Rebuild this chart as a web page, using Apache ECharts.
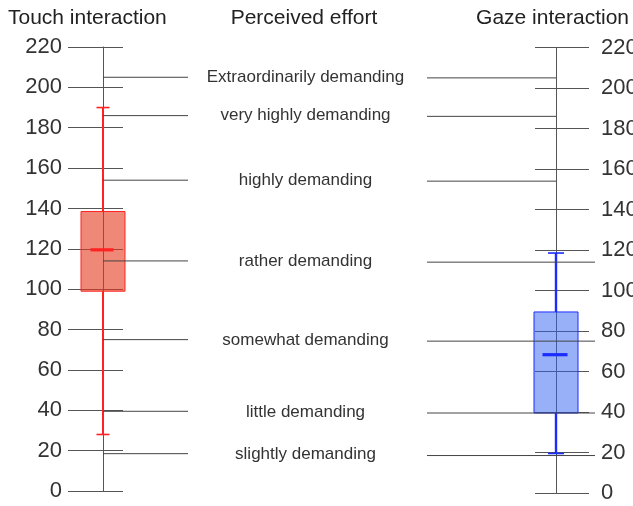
<!DOCTYPE html>
<html>
<head>
<meta charset="utf-8">
<script src="https://cdn.jsdelivr.net/npm/echarts@6/dist/echarts.min.js"></script>
<style>
html,body{margin:0;padding:0;background:#fff;}
#chart{width:633px;height:506px;}
</style>
</head>
<body>
<div id="chart"></div>
<script>
// ---- data ----
const axisMin = 0;
const axisMax = 220;
const axisInterval = 20;
const groupNames = ['Touch interaction', 'Gaze interaction'];
const middleTitle = 'Perceived effort';
// [min, Q1, median, Q3, max]
const touchBox = [28, 99, 119.5, 138.5, 190];
const gazeBox = [19.5, 39.5, 68.3, 89.4, 118.5];
const levelNames = [
  'Extraordinarily demanding',
  'very highly demanding',
  'highly demanding',
  'rather demanding',
  'somewhat demanding',
  'little demanding',
  'slightly demanding'
];
const levelValues = [205, 186, 154, 114, 75, 39.5, 18.5];

// ---- styles ----
const FONT = 'Liberation Sans, Arial, Helvetica, sans-serif';
const TEXT = '#333';
const LINE = '#555';
const LEFT_SCALE = {top: 47, height: 444};
const RIGHT_SCALE = {top: 47.5, height: 445.5};
const MID_SCALE = {top: 47, height: 445};

const chart = echarts.init(document.getElementById('chart'));

function valueY(gridIndex, show, extra) {
  return Object.assign({
    type: 'value', gridIndex: gridIndex, min: axisMin, max: axisMax, interval: axisInterval,
    show: show
  }, extra || {});
}

function gridAt(left, width, scale) {
  return Object.assign({left: left, width: width, outerBoundsMode: 'none', containLabel: false}, scale);
}

function hiddenX(gridIndex) {
  return {type: 'value', gridIndex: gridIndex, show: false, min: 0, max: 1};
}

function boxRender(color, stroke, boxW, capW, medW, whiskW) {
  return function (params, api) {
    const mn = api.value(1), q1 = api.value(2), md = api.value(3), q3 = api.value(4), mx = api.value(5);
    const pMin = api.coord([api.value(0), mn]);
    const x = pMin[0];
    const yMin = pMin[1];
    const yQ1 = api.coord([api.value(0), q1])[1];
    const yMd = api.coord([api.value(0), md])[1];
    const yQ3 = api.coord([api.value(0), q3])[1];
    const yMax = api.coord([api.value(0), mx])[1];
    return {
      type: 'group',
      children: [
        {type: 'line', shape: {x1: x, y1: yMax, x2: x, y2: yQ3}, style: {stroke: stroke, lineWidth: whiskW}},
        {type: 'line', shape: {x1: x, y1: yQ1, x2: x, y2: yMin}, style: {stroke: stroke, lineWidth: whiskW}},
        {type: 'line', shape: {x1: x - capW / 2, y1: yMax, x2: x + capW / 2, y2: yMax}, style: {stroke: stroke, lineWidth: 1.6}},
        {type: 'line', shape: {x1: x - capW / 2, y1: yMin, x2: x + capW / 2, y2: yMin}, style: {stroke: stroke, lineWidth: 1.6}},
        {type: 'rect', shape: {x: x - boxW / 2, y: yQ3, width: boxW, height: yQ1 - yQ3},
          style: {fill: color, stroke: stroke, lineWidth: 1}},
        {type: 'line', shape: {x1: x - medW / 2 - 1, y1: yMd, x2: x + medW / 2 - 1, y2: yMd}, style: {stroke: stroke, lineWidth: 3.2}}
      ]
    };
  };
}

function levelLinesRender(extendTo, extendFromIndex) {
  return function (params, api) {
    const cs = params.coordSys;
    const y = api.coord([0, api.value(1)])[1];
    let x2 = cs.x + cs.width;
    if (extendTo && params.dataIndex >= extendFromIndex) x2 = extendTo;
    return {type: 'line', shape: {x1: cs.x, y1: y, x2: x2, y2: y}, style: {stroke: '#444', lineWidth: 1}};
  };
}

const levelData = levelValues.map((v, i) => [i, v]);
const titleStyle = {fontFamily: FONT, fontSize: 21, fontWeight: 'normal', color: '#222'};

const splitAxis = {
  axisLine: {show: false},
  axisTick: {show: false},
  axisLabel: {show: false},
  splitLine: {show: true, lineStyle: {color: LINE, width: 1}}
};

const option = {
  animation: false,
  backgroundColor: '#fff',
  title: [
    {text: groupNames[0], left: 8, top: 8, padding: 0, textStyle: titleStyle},
    {text: middleTitle, left: 304, top: 8, padding: 0, textAlign: 'center', textStyle: titleStyle},
    {text: groupNames[1], right: 4, top: 8, padding: 0, textStyle: titleStyle}
  ],
  grid: [
    gridAt(68, 55, LEFT_SCALE),    // 0 left tick lines
    gridAt(535, 54, RIGHT_SCALE),  // 1 right tick lines
    gridAt(63, 80, LEFT_SCALE),    // 2 left box
    gridAt(516, 80, RIGHT_SCALE),  // 3 right box
    gridAt(103, 85, LEFT_SCALE),   // 4 left level lines
    gridAt(427, 129, RIGHT_SCALE), // 5 right level lines
    gridAt(188, 235, MID_SCALE),   // 6 middle labels
    gridAt(103, 40, LEFT_SCALE),   // 7 left axis line + labels
    gridAt(500, 56, RIGHT_SCALE)   // 8 right axis line + labels
  ],
  xAxis: [
    hiddenX(0),
    hiddenX(1),
    {type: 'category', gridIndex: 2, show: false, data: [groupNames[0]]},
    {type: 'category', gridIndex: 3, show: false, data: [groupNames[1]]},
    hiddenX(4),
    hiddenX(5),
    hiddenX(6),
    hiddenX(7),
    hiddenX(8)
  ],
  yAxis: [
    valueY(0, true, splitAxis),
    valueY(1, true, splitAxis),
    valueY(2, false),
    valueY(3, false),
    valueY(4, false),
    valueY(5, false),
    valueY(6, false),
    valueY(7, true, {
      position: 'left',
      axisLine: {show: true, onZero: false, lineStyle: {color: LINE, width: 1}},
      axisTick: {show: false},
      splitLine: {show: false},
      axisLabel: {margin: 41, fontSize: 22, fontFamily: FONT, color: TEXT}
    }),
    valueY(8, true, {
      position: 'right',
      axisLine: {show: true, onZero: false, lineStyle: {color: LINE, width: 1}},
      axisTick: {show: false},
      splitLine: {show: false},
      axisLabel: {margin: 45, fontSize: 22, fontFamily: FONT, color: TEXT}
    })
  ],
  series: [
    {
      type: 'custom', name: groupNames[0], xAxisIndex: 2, yAxisIndex: 2,
      renderItem: boxRender('rgba(230,57,30,0.6)', '#ff2222', 44, 13, 23, 2),
      data: [[0].concat(touchBox)], encode: {x: 0, y: [1, 2, 3, 4, 5]}
    },
    {
      type: 'custom', name: groupNames[1], xAxisIndex: 3, yAxisIndex: 3,
      renderItem: boxRender('rgba(49,97,241,0.5)', '#1a2cff', 44, 16, 25, 2.4),
      data: [[0].concat(gazeBox)], encode: {x: 0, y: [1, 2, 3, 4, 5]}
    },
    {
      type: 'custom', xAxisIndex: 4, yAxisIndex: 4,
      renderItem: levelLinesRender(null, 0),
      data: levelData, encode: {y: 1}
    },
    {
      type: 'custom', xAxisIndex: 5, yAxisIndex: 5,
      renderItem: levelLinesRender(595, 3),
      data: levelData, encode: {y: 1}
    },
    {
      type: 'custom', xAxisIndex: 6, yAxisIndex: 6,
      renderItem: function (params, api) {
        const cs = params.coordSys;
        const y = api.coord([0, api.value(1)])[1];
        return {
          type: 'text',
          style: {
            text: levelNames[params.dataIndex], x: cs.x + cs.width / 2, y: y,
            align: 'center', verticalAlign: 'middle',
            font: '17px ' + FONT, fill: TEXT
          }
        };
      },
      data: levelData, encode: {y: 1}
    }
  ]
};
chart.setOption(option);
</script>
</body>
</html>
